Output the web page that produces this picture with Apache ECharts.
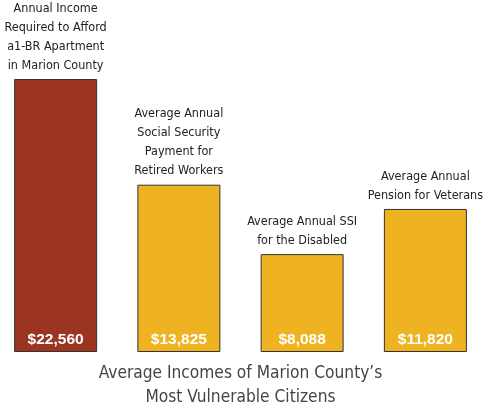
<!DOCTYPE html>
<html>
<head>
<meta charset="utf-8">
<script src="https://cdn.jsdelivr.net/npm/echarts@6/dist/echarts.min.js"></script>
<style>
  html, body { margin: 0; padding: 0; background: #fff; overflow: hidden; }
  #main { width: 493px; height: 408px; margin-left: -6px; }
</style>
</head>
<body>
<div id="main"></div>
<script>
// data
var categories = [
  'Annual Income\nRequired to Afford\na1-BR Apartment\nin Marion County',
  'Average Annual\nSocial Security\nPayment for\nRetired Workers',
  'Average Annual SSI\nfor the Disabled',
  'Average Annual\nPension for Veterans'
];
var incomes = [22560, 13825, 8088, 11820];
var barColors = ['#9b3421', '#efb321', '#efb321', '#efb321'];

var chart = echarts.init(document.getElementById('main'));

var option = {
  animation: false,
  title: {
    text: 'Average Incomes of Marion County\u2019s\nMost Vulnerable Citizens',
    left: 'center',
    top: 357,
    textStyle: {
      fontFamily: 'DejaVu Sans Condensed',
      fontWeight: 'normal',
      fontSize: 17.2,
      lineHeight: 24,
      color: '#444'
    }
  },
  grid: { left: 0, right: 0, top: 79, bottom: 56 },
  xAxis: {
    type: 'category',
    data: categories,
    show: false
  },
  yAxis: {
    type: 'value',
    min: 0,
    max: 22560,
    show: false
  },
  series: [
    {
      type: 'bar',
      barWidth: 83,
      data: incomes.map(function (v, i) {
        return { value: v, itemStyle: { color: barColors[i] } };
      }),
      itemStyle: { borderColor: '#333', borderWidth: 1 },
      label: {
        show: true,
        position: 'top',
        distance: 4,
        formatter: function (p) { return categories[p.dataIndex]; },
        fontFamily: 'DejaVu Sans Condensed',
        fontSize: 12.5,
        lineHeight: 19,
        color: '#222'
      }
    },
    {
      type: 'bar',
      barWidth: 83,
      barGap: '-100%',
      data: incomes,
      itemStyle: { color: 'transparent' },
      silent: true,
      label: {
        show: true,
        position: 'insideBottom',
        distance: 4,
        formatter: function (p) { return '$' + p.value.toLocaleString('en-US'); },
        fontFamily: 'Liberation Sans',
        fontWeight: 'bold',
        fontSize: 15.5,
        color: '#fff'
      }
    }
  ]
};

chart.setOption(option);
</script>
</body>
</html>
